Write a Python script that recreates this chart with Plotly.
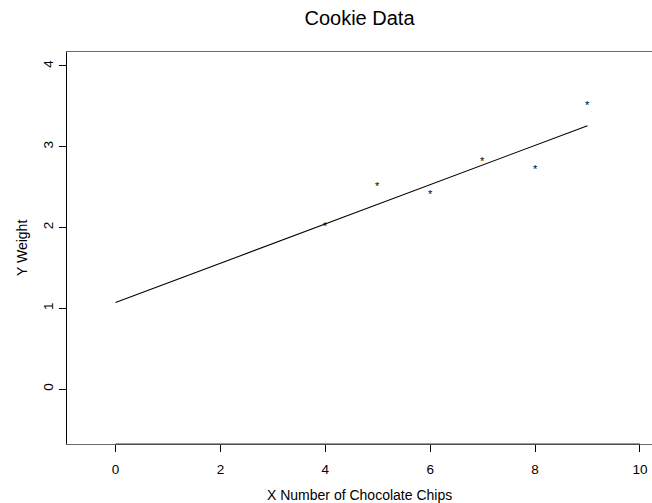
import plotly.graph_objects as go

# Cookie measurements
chips = [4, 5, 6, 7, 8, 9]
weight = [2.05, 2.55, 2.45, 2.85, 2.75, 3.55]

# Fitted line endpoints
fit_x = [0, 9]
fit_y = [1.07, 3.26]

x_ticks = [0, 2, 4, 6, 8, 10]
y_ticks = [0, 1, 2, 3, 4]

FONT = "Liberation Sans, Arial, sans-serif"
TICK_FONT = dict(family=FONT, size=13.5, color="black")
LABEL_FONT = dict(family=FONT, size=14, color="black")

fig = go.Figure()
fig.add_trace(go.Scatter(
    x=fit_x, y=fit_y, mode="lines",
    line=dict(color="black", width=1.1), hoverinfo="skip", showlegend=False,
))

# "*" plotting characters, nudged so the glyph sits on its data point
star_marks = [
    dict(x=cx, y=wy, xref="x", yref="y", text="*", showarrow=False,
         xanchor="center", yanchor="middle", yshift=-2.5,
         font=dict(family=FONT, size=11, color="black"))
    for cx, wy in zip(chips, weight)
]

fig.update_xaxes(
    range=[-0.925, 10.23], tickvals=x_ticks, ticktext=[str(v) for v in x_ticks],
    showgrid=False, zeroline=False, showline=True, linecolor="#6a6a6a",
    linewidth=1.3, mirror=True, ticks="outside", ticklen=7,
    tickcolor="black", tickwidth=1, tickfont=TICK_FONT, ticklabelstandoff=6,
)
fig.update_yaxes(
    range=[-0.681, 4.173], tickvals=y_ticks, ticktext=[str(v) for v in y_ticks],
    tickangle=-90, showgrid=False, zeroline=False, showline=True,
    linecolor="black", linewidth=1, mirror=False, ticks="outside", ticklen=7,
    tickcolor="black", tickwidth=1, tickfont=TICK_FONT, ticklabelstandoff=1,
)

# Axis line spanning the labelled tick range along the bottom
axis_segment = dict(type="line", xref="x", yref="paper",
                    x0=x_ticks[0], x1=x_ticks[-1], y0=0, y1=0,
                    line=dict(color="#333", width=1))

fig.update_layout(
    width=652, height=503,
    margin=dict(l=67, r=0, t=52, b=59),
    plot_bgcolor="white", paper_bgcolor="white",
    title=dict(text="Cookie Data", x=0.5, xref="paper", y=1 - 17.5 / 503,
               yref="container", yanchor="middle", xanchor="center",
               font=dict(family=FONT, size=20, color="black")),
    shapes=[axis_segment],
    annotations=star_marks + [
        dict(text="X Number of Chocolate Chips", xref="paper", yref="paper",
             x=0.5, y=-51 / 392, xanchor="center", yanchor="middle",
             showarrow=False, font=LABEL_FONT),
        dict(text="Y Weight", xref="paper", yref="paper",
             x=-45 / 585, y=0.5, xanchor="center", yanchor="middle",
             textangle=-90, showarrow=False, font=LABEL_FONT),
    ],
)

fig.write_html("out.html")
